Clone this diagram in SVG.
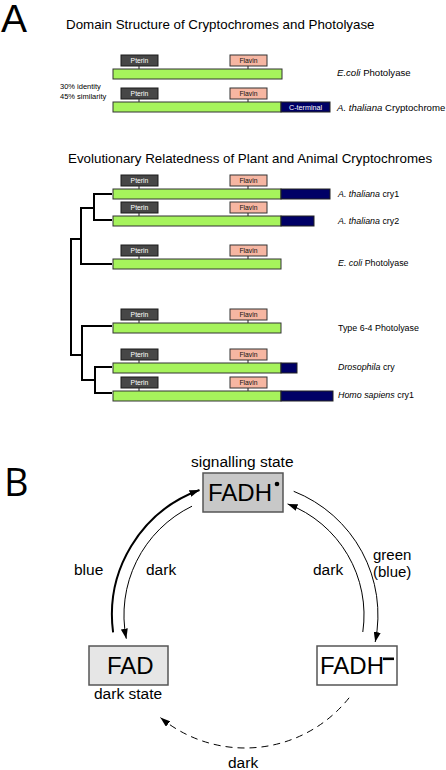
<svg xmlns="http://www.w3.org/2000/svg" width="446" height="770" viewBox="0 0 446 770">
<style>
text{font-family:"Liberation Sans",Arial,sans-serif;fill:#000}
.big{font-size:39px}
.bigB{font-family:"Open Sans","Liberation Sans",sans-serif;font-size:38px}
.title{font-size:13.35px}
.lbl{font-size:9.6px}
.tl{font-size:8.9px}
.small{font-size:7.5px}
.pt{font-size:6.8px;fill:#fff;text-anchor:middle}
.ft{font-size:6.8px;fill:#111;text-anchor:middle}
.ct{font-size:7.2px;fill:#fff}
.pterin{fill:#474747;stroke:#1a1a1a;stroke-width:1}
.flavin{fill:#f6b6a2;stroke:#333;stroke-width:1}
.bar{fill:#a6f35c;stroke:#333;stroke-width:1}
.cterm{fill:#000066;stroke:#222;stroke-width:1}
.tick{stroke:#222;stroke-width:1;fill:none}
.tree{stroke:#000;stroke-width:2;fill:none}
.b{font-size:15.5px}
.g{font-size:15px}
.fad{font-size:24px}
.box{stroke:#555;stroke-width:1.5}
.arc{fill:none;stroke:#000;stroke-width:1}
.it{font-style:italic}
</style>
<defs>
<marker id="ah" viewBox="0 0 10 7" refX="10" refY="3.5" markerWidth="10" markerHeight="7" markerUnits="userSpaceOnUse" orient="auto">
<path d="M0,0 L10,3.5 L0,7 z" fill="#000"/>
</marker>
</defs>

<text class="big" x="1" y="32">A</text>
<text class="title" x="66" y="29">Domain Structure of Cryptochromes and Photolyase</text>

<g id="a-ecoli" transform="translate(0,55)">
<rect class="pterin" x="121" y="0" width="37" height="11"/>
<text class="pt" x="139.5" y="8.3">Pterin</text>
<rect class="flavin" x="230" y="0" width="37" height="11"/>
<text class="ft" x="248.5" y="8.3">Flavin</text>
<path class="tick" d="M139 11V14M248 11V14"/>
<rect class="bar" x="113" y="14" width="169" height="10"/>
<text class="lbl" x="337" y="21"><tspan class="it">E.coli</tspan> Photolyase</text>
</g>

<g id="a-identity">
<text class="small" x="60" y="89">30% identity</text>
<text class="small" x="60" y="99">45% similarity</text>
</g>

<g id="a-cry" transform="translate(0,88)">
<rect class="pterin" x="121" y="0" width="37" height="11"/>
<text class="pt" x="139.5" y="8.3">Pterin</text>
<rect class="flavin" x="230" y="0" width="37" height="11"/>
<text class="ft" x="248.5" y="8.3">Flavin</text>
<path class="tick" d="M139 11V14M248 11V14"/>
<rect class="bar" x="113" y="14" width="168" height="10"/>
<rect class="cterm" x="281" y="14" width="49" height="10"/>
<text class="ct" x="289" y="21.6">C-terminal</text>
<text class="lbl" x="337" y="22.5"><tspan class="it">A. thaliana</tspan> Cryptochrome</text>
</g>

<text class="title" x="68" y="163">Evolutionary Relatedness of Plant and Animal Cryptochromes</text>

<g id="t-cry1" transform="translate(0,175)">
<rect class="pterin" x="121" y="0" width="37" height="11"/>
<text class="pt" x="139.5" y="8.3">Pterin</text>
<rect class="flavin" x="230" y="0" width="37" height="11"/>
<text class="ft" x="248.5" y="8.3">Flavin</text>
<path class="tick" d="M139 11V14M248 11V14"/>
<rect class="bar" x="113" y="14" width="168" height="10"/>
<rect class="cterm" x="281" y="14" width="49" height="10"/>
<text class="tl" x="338" y="21.5"><tspan class="it">A. thaliana</tspan> cry1</text>
</g>

<g id="t-cry2" transform="translate(0,202)">
<rect class="pterin" x="121" y="0" width="37" height="11"/>
<text class="pt" x="139.5" y="8.3">Pterin</text>
<rect class="flavin" x="230" y="0" width="37" height="11"/>
<text class="ft" x="248.5" y="8.3">Flavin</text>
<path class="tick" d="M139 11V14M248 11V14"/>
<rect class="bar" x="113" y="14" width="168" height="10"/>
<rect class="cterm" x="281" y="14" width="33" height="10"/>
<text class="tl" x="338" y="22"><tspan class="it">A. thaliana</tspan> cry2</text>
</g>

<g id="t-ecoli" transform="translate(0,245)">
<rect class="pterin" x="121" y="0" width="37" height="11"/>
<text class="pt" x="139.5" y="8.3">Pterin</text>
<rect class="flavin" x="230" y="0" width="37" height="11"/>
<text class="ft" x="248.5" y="8.3">Flavin</text>
<path class="tick" d="M139 11V14M248 11V14"/>
<rect class="bar" x="113" y="14" width="168" height="10"/>
<text class="tl" x="338" y="21"><tspan class="it">E. coli</tspan> Photolyase</text>
</g>

<g id="t-64" transform="translate(0,309)">
<rect class="pterin" x="121" y="0" width="37" height="11"/>
<text class="pt" x="139.5" y="8.3">Pterin</text>
<rect class="flavin" x="230" y="0" width="37" height="11"/>
<text class="ft" x="248.5" y="8.3">Flavin</text>
<path class="tick" d="M139 11V14M248 11V14"/>
<rect class="bar" x="113" y="14" width="168" height="10"/>
<text class="tl" x="338" y="21.7">Type 6-4 Photolyase</text>
</g>

<g id="t-dros" transform="translate(0,349)">
<rect class="pterin" x="121" y="0" width="37" height="11"/>
<text class="pt" x="139.5" y="8.3">Pterin</text>
<rect class="flavin" x="230" y="0" width="37" height="11"/>
<text class="ft" x="248.5" y="8.3">Flavin</text>
<path class="tick" d="M139 11V14M248 11V14"/>
<rect class="bar" x="113" y="14" width="168" height="10"/>
<rect class="cterm" x="281" y="14" width="16" height="10"/>
<text class="tl" x="338" y="21"><tspan class="it">Drosophila</tspan> cry</text>
</g>

<g id="t-homo" transform="translate(0,377)">
<rect class="pterin" x="121" y="0" width="37" height="11"/>
<text class="pt" x="139.5" y="8.3">Pterin</text>
<rect class="flavin" x="230" y="0" width="37" height="11"/>
<text class="ft" x="248.5" y="8.3">Flavin</text>
<path class="tick" d="M139 11V14M248 11V14"/>
<rect class="bar" x="113" y="14" width="168" height="10"/>
<rect class="cterm" x="281" y="14" width="52" height="10"/>
<text class="tl" x="338" y="21"><tspan class="it">Homo sapiens</tspan> cry1</text>
</g>

<g id="tree">
<path class="tree" d="M112 194H94V220H112"/>
<path class="tree" d="M94 208H81V264H112"/>
<path class="tree" d="M81 239H71V355H82"/>
<path class="tree" d="M112 326H82V380H95"/>
<path class="tree" d="M112 367H95V393H112"/>
</g>

<text class="bigB" x="4" y="496">B</text>

<g id="connectors">
<path class="arc" style="stroke-width:2" d="M113.1 632.4A133 133 0 0 1 199.5 490" marker-end="url(#ah)"/>
<path class="arc" d="M192 506.2A121 121 0 0 0 126.3 638.7" marker-end="url(#ah)"/>
<path class="arc" d="M293.7 491.3A133 133 0 0 1 375.2 642" marker-end="url(#ah)"/>
<path class="arc" d="M362.8 632A119 119 0 0 0 287.6 503.9" marker-end="url(#ah)"/>
<path class="arc" style="stroke-dasharray:7 5" d="M349.1 697.8A133 133 0 0 1 160.4 717.6" marker-end="url(#ah)"/>
<text class="b" x="74" y="575">blue</text>
<text class="b" x="146" y="575">dark</text>
<text class="b" x="313" y="575">dark</text>
<text class="g" x="373" y="560">green</text>
<text class="g" x="373" y="577">(blue)</text>
<text class="b" x="228" y="768">dark</text>
</g>

<g id="fadh-radical">
<text class="b" x="191" y="467">signalling state</text>
<rect class="box" x="203" y="473" width="80" height="39" fill="#c8c8c8"/>
<text class="fad" x="208" y="501">FADH</text>
<circle cx="277" cy="484" r="2.3" fill="#000"/>
</g>

<g id="fad">
<rect class="box" x="89" y="646" width="79" height="39" fill="#e6e6e6"/>
<text class="fad" x="107" y="674">FAD</text>
<text class="b" x="94" y="699">dark state</text>
</g>

<g id="fadh-minus">
<rect class="box" x="317" y="646" width="80" height="39" fill="#fff"/>
<text class="fad" x="320" y="674">FADH</text>
<rect x="383" y="657.5" width="11" height="2.6" fill="#000"/>
</g>
</svg>
